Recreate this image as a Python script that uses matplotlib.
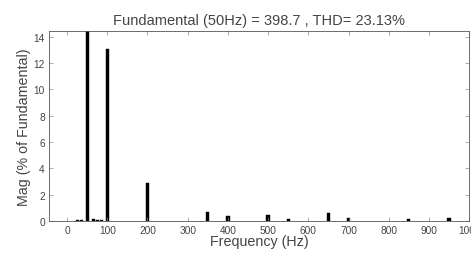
import numpy as np
import matplotlib
matplotlib.use("Agg")
import matplotlib.pyplot as plt

# Harmonic spectrum (% of fundamental)
freqs = [25, 35, 50, 65, 75, 85, 100, 200, 350, 400, 500, 550, 650, 700, 850, 950]
mags = [0.05, 0.1, 100.0, 0.15, 0.12, 0.1, 13.1, 2.9, 0.7, 0.4, 0.45, 0.15, 0.6, 0.2, 0.15, 0.2]
title = "Fundamental (50Hz) = 398.7 , THD= 23.13%"
xticks = np.arange(0, 1001, 100)
yticks = np.arange(0, 15, 2)

plt.rcParams['font.family'] = ['Liberation Sans', 'DejaVu Sans']
txt = '#444444'

fig = plt.figure(figsize=(4.71, 2.55), dpi=100)
ax = fig.add_axes([0.104, 0.129, 0.892, 0.746])

ax.bar(freqs, mags, width=8, color='black', edgecolor='black', linewidth=0.3)

ax.set_xlim(-45, 1000)
ax.set_ylim(0, 14.45)
ax.set_xticks(xticks)
ax.set_yticks(yticks)
ax.tick_params(direction='in', top=True, right=True, length=3, width=0.5,
               labelsize=7.3, colors='#888888', labelcolor=txt, pad=3)
for s in ax.spines.values():
    s.set_linewidth(0.6)
    s.set_color('#555555')

ax.set_xlabel("Frequency (Hz)", fontsize=10.3, color=txt, labelpad=-1)
ax.set_ylabel("Mag (% of Fundamental)", fontsize=10.3, color=txt, labelpad=2)
ax.set_title(title, fontsize=10.5, color=txt, pad=5)

fig.savefig("out.png", dpi=100)
